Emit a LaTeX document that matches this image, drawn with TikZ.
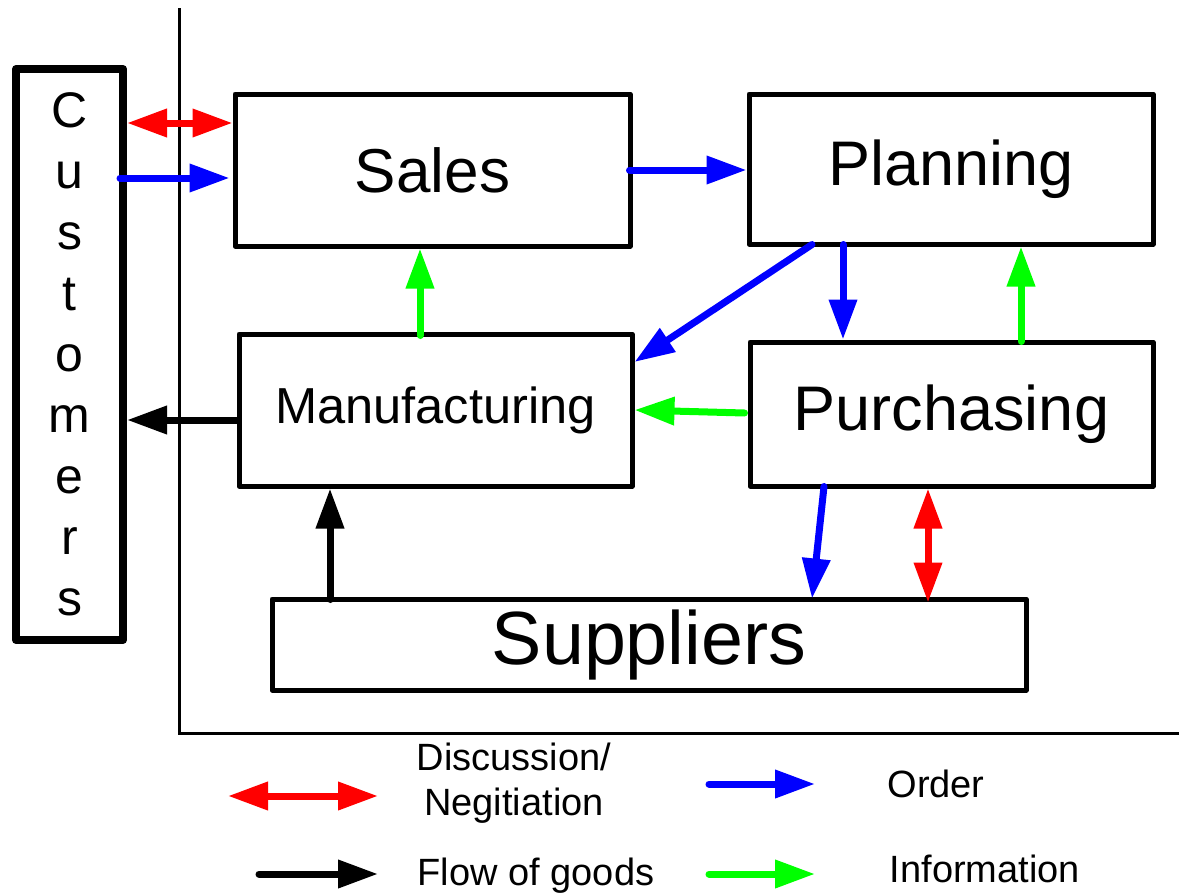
\documentclass[tikz,border=0pt]{standalone}
\usepackage{fontspec}
\setmainfont{Liberation Sans}
\usetikzlibrary{arrows.meta,calc}
\definecolor{cred}{RGB}{255,0,0}
\definecolor{cblue}{RGB}{0,0,255}
\definecolor{cgreen}{RGB}{0,255,0}
\begin{document}
\begin{tikzpicture}[x=0.5pt,y=-0.5pt,
  box/.style={draw=black,line width=2.5pt,line join=round,inner sep=0pt,fill=white},
  conn/.style={line width=3.5pt,line cap=round,-{Triangle[length=20pt,width=13.5pt]}},
  dconn/.style={line width=3.5pt,{Triangle[length=20pt,width=13.5pt]}-{Triangle[length=20pt,width=13.5pt]}},
  order/.style={conn,draw=cblue},
  info/.style={conn,draw=cgreen},
  goods/.style={conn,draw=black},
  disc/.style={dconn,draw=cred},
  legtext/.style={font=\fontsize{19pt}{22.5pt}\selectfont,align=center}
]
\useasboundingbox (0,0) rectangle (1179,894);
% axes
\draw[line width=1.5pt] (179,8) -- (179,733) -- (1179,733);
% boxes
\node[box,line width=4pt,minimum width=53.5pt,minimum height=285.5pt,
  font=\fontsize{25pt}{30.5pt}\selectfont,align=center] (cust) at (69.5,354.5)
  {C\\u\\s\\t\\o\\m\\e\\r\\s};
\node[box,minimum width=197.5pt,minimum height=76pt,font=\fontsize{31pt}{36pt}\selectfont] (sales) at (432.5,170) {Sales};
\node[box,minimum width=202pt,minimum height=75pt,font=\fontsize{31.5pt}{36pt}\selectfont] (plan) at (951,169) {Planning};
\node[box,minimum width=196.5pt,minimum height=76pt,font=\fontsize{25.3pt}{30pt}\selectfont] (manuf) at (435.5,410) {Manufacturing};
\node[box,minimum width=201.5pt,minimum height=72pt,font=\fontsize{31.5pt}{36pt}\selectfont] (purch) at (951.5,414) {Purchasing};
\node[box,minimum width=377pt,minimum height=45.5pt,font=\fontsize{37.7pt}{42pt}\selectfont] (supp) at (649,644.5) {Suppliers};
% connectors
\coordinate (r1) at ([yshift=23.5pt]sales.west);
\draw[disc] (cust.east |- r1) -- (r1);
\coordinate (b1) at ([yshift=-4pt,xshift=-1.5pt]sales.west);
\draw[order] ([xshift=-3.5pt]cust.east |- b1) -- (b1);
\draw[order] ([xshift=-1.5pt]sales.east) -- (sales.east -| plan.west);
\coordinate (g1) at ([xshift=-7.75pt,yshift=-2pt]manuf.north);
\draw[info] (g1) -- (g1 |- sales.south);
\draw[order] ([xshift=32.75pt,yshift=1pt]plan.south west) -- ([yshift=24pt]manuf.east);
\coordinate (b2) at ([xshift=-54pt,yshift=1pt]plan.south);
\draw[order] (b2) -- (b2 |- purch.north);
\coordinate (g2) at ([xshift=34.75pt,yshift=-1pt]purch.north);
\draw[info] (g2) -- (g2 |- plan.south);
\draw[info] ([xshift=-1.5pt,yshift=0.5pt]purch.west) -- (manuf.east);
\coordinate (k1) at ([yshift=-5pt]manuf.west);
\draw[goods] (k1) -- (k1 -| cust.east);
\coordinate (k2) at ([xshift=-159.5pt,yshift=-1.5pt]supp.north);
\draw[goods] (k2) -- (k2 |- manuf.south);
\draw[order] ([xshift=-63.75pt,yshift=1pt]purch.south) -- ([xshift=81.5pt,yshift=-1pt]supp.north);
\coordinate (r2) at ([xshift=-11.75pt]purch.south);
\draw[disc] (r2) -- ([yshift=-3pt]r2 |- supp.north);
% legend
\coordinate (l1a) at (228,796); \coordinate (l1b) at (378,796);
\draw[disc] (l1a) -- (l1b);
\node[legtext] (t1) at (514,783) {Discussion/\\Negitiation};
\coordinate (l2a) at (259,874); \coordinate (l2b) at (378,874);
\draw[goods] (l2a) -- (l2b);
\node[legtext] (t2) at (536,876) {Flow of goods};
\coordinate (l3a) at (709,784); \coordinate (l3b) at (815,784);
\draw[order] (l3a) -- (l3b);
\node[legtext] (t3) at (936,784) {Order};
\coordinate (l4a) at (709,874); \coordinate (l4b) at (815,874);
\draw[info] (l4a) -- (l4b);
\node[legtext] (t4) at (985,869) {Information};
\end{tikzpicture}
\end{document}
